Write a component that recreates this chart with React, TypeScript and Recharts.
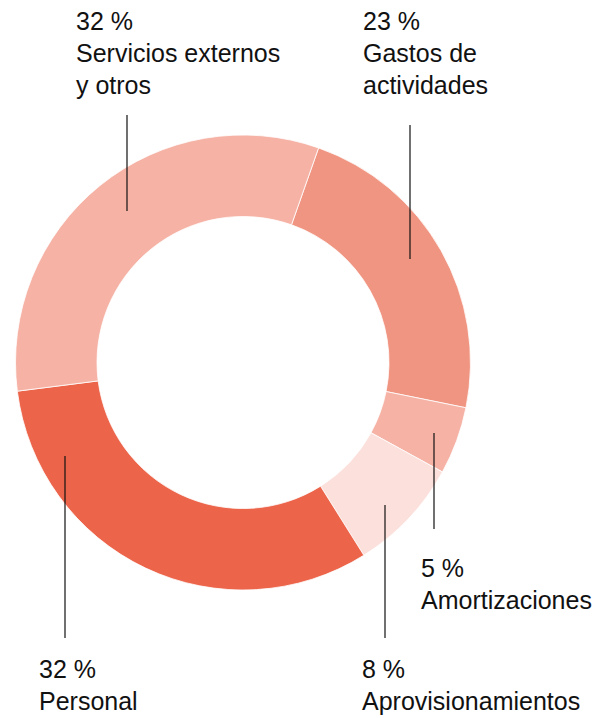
import React from "react";
import { PieChart, Pie, Cell } from "recharts";

// slices in drawing order, clockwise from the top-right boundary
const categories = [
  "Gastos de\nactividades",
  "Amortizaciones",
  "Aprovisionamientos",
  "Personal",
  "Servicios externos\ny otros",
];
const shares = [22.8, 4.8, 8.1, 31.9, 32.4];
const colors = ["#f09581", "#f5b2a5", "#fce0dc", "#ec654b", "#f5b2a5"];

const data = categories.map((name, i) => ({ name, value: shares[i] }));

const CX = 243;
const CY = 362.5;
const FONT = "'Liberation Sans', Arial, Helvetica, sans-serif";

// label placement relative to the pie centre: text origin, leader line x and y range
const labelLayout = [
  { tx: 120, ty: -332.5, lx: 167, ly1: -237.5, ly2: -103.5 },
  { tx: 178, ty: 214.5, lx: 191, ly1: 70.5, ly2: 166.5 },
  { tx: 119, ty: 315.5, lx: 142, ly1: 142.5, ly2: 275.5 },
  { tx: -204, ty: 315.5, lx: -178, ly1: 93.5, ly2: 275.5 },
  { tx: -167, ty: -332.5, lx: -116, ly1: -247.5, ly2: -151.5 },
];

const renderLabel = (props: any) => {
  const { cx, cy, index, value, name } = props;
  const l = labelLayout[index];
  const lines = [`${Math.round(value)} %`, ...String(name).split("\n")];
  return (
    <g key={`lbl-${index}`}>
      <line
        x1={cx + l.lx}
        x2={cx + l.lx}
        y1={cy + l.ly1}
        y2={cy + l.ly2}
        stroke="#111"
        strokeWidth={1.2}
      />
      <text
        x={cx + l.tx}
        y={cy + l.ty}
        fill="#111"
        fontSize={25}
        fontFamily={FONT}
        textAnchor="start"
      >
        {lines.map((t, i) => (
          <tspan key={i} x={cx + l.tx} dy={i === 0 ? 0 : 32}>
            {t}
          </tspan>
        ))}
      </text>
    </g>
  );
};

export default function App() {
  return (
    <div style={{ position: "absolute", left: 0, top: 0, background: "#fff" }}>
      <PieChart width={603} height={718} margin={{ top: 0, right: 0, bottom: 0, left: 0 }}>
        <Pie
          data={data}
          dataKey="value"
          nameKey="name"
          cx={CX}
          cy={CY}
          innerRadius={146}
          outerRadius={227.5}
          startAngle={70.6}
          endAngle={-289.4}
          paddingAngle={0}
          stroke="#fff"
          strokeWidth={0.8}
          label={renderLabel}
          labelLine={false}
          isAnimationActive={false}
        >
          {data.map((d, i) => (
            <Cell key={d.name} fill={colors[i]} />
          ))}
        </Pie>
      </PieChart>
    </div>
  );
}
